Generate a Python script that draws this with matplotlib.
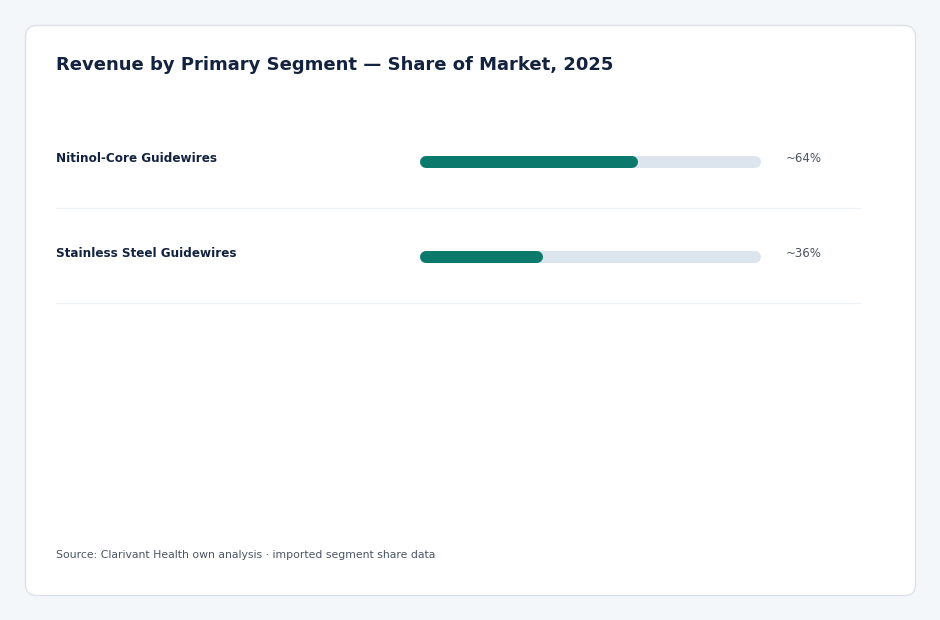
import matplotlib
matplotlib.use("Agg")
import matplotlib.pyplot as plt
from matplotlib.patches import FancyBboxPatch
from matplotlib.transforms import blended_transform_factory

# ---- data ----
categories = ["Nitinol-Core Guidewires", "Stainless Steel Guidewires"]
shares = [64, 36]
value_labels = ["~64%", "~36%"]
title = "Revenue by Primary Segment \u2014 Share of Market, 2025"
source = "Source: Clarivant Health own analysis \u00b7 imported segment share data"

W, H = 940, 620
fig = plt.figure(figsize=(W / 100, H / 100), dpi=100)
fig.patch.set_facecolor("#f4f7fa")

# background axes in pixel coords
bg = fig.add_axes([0, 0, 1, 1])
bg.set_xlim(0, W)
bg.set_ylim(H, 0)
bg.axis("off")
card = FancyBboxPatch((25.5, 25.5), 890, 570, boxstyle="round,pad=0,rounding_size=11",
                      facecolor="white", edgecolor="#dde2e8", linewidth=1.0)
bg.add_patch(card)
bg.text(56, 65, title, fontsize=12.95, fontweight="bold", color="#13233f",
        ha="left", va="center")
bg.text(56, 555, source, fontsize=7.85, color="#4b5563", ha="left", va="center")

# bars axes
x0, x1 = 420, 761
ytop, ybot = 114.5, 304.5
ax = fig.add_axes([x0 / W, 1 - ybot / H, (x1 - x0) / W, (ybot - ytop) / H])
ax.set_xlim(0, 100)
n = len(categories)
ax.set_ylim(n - 0.5, -0.5)
ax.axis("off")

bar_px = 12
cap = (bar_px / 2) / (x1 - x0) * 100  # cap radius in data units
lw_pt = bar_px * 72 / 100
for i, v in enumerate(shares):
    ax.plot([cap, 100 - cap], [i, i], color="#dce4ee", lw=lw_pt,
            solid_capstyle="round", clip_on=False)
    ax.plot([cap, v - cap], [i, i], color="#0b7a6c", lw=lw_pt,
            solid_capstyle="round", clip_on=False)

tr = blended_transform_factory(bg.transData, ax.transData)
px_per_row = 95
for i, (c, lab) in enumerate(zip(categories, value_labels)):
    bg.text(56, i - 4 / px_per_row, c, transform=tr, fontsize=8.65, fontweight="bold",
            color="#13233f", ha="left", va="center")
    bg.text(786, i - 4 / px_per_row, lab, transform=tr, fontsize=8.5,
            color="#4a5160", ha="left", va="center")
    bg.plot([56, 860], [i + 46 / px_per_row] * 2, transform=tr, color="#edf0f4",
            lw=0.9, clip_on=False)

fig.savefig("out.png", dpi=100, facecolor=fig.get_facecolor())
